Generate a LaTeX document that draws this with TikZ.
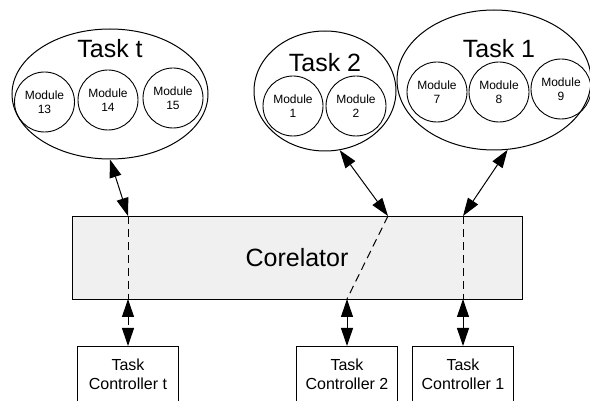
\documentclass[tikz,border=0pt]{standalone}
\usepackage{fontspec}
\setmainfont{Liberation Sans}
\usetikzlibrary{arrows.meta,shapes.geometric}

\tikzset{
	task/.style={draw, ellipse, line width=1pt, inner sep=0pt},
	module/.style={draw, circle, line width=0.9pt, minimum size=60pt, inner sep=0pt, align=center, font=\fontsize{12}{14}\selectfont},
	tasklabel/.style={font=\fontsize{25}{30}\selectfont},
	ctrl/.style={draw, rectangle, line width=0.9pt, minimum width=101pt, minimum height=56pt, anchor=north, align=center, font=\fontsize{16}{19}\selectfont},
	link/.style={line width=1pt, {Triangle[length=18pt,width=12pt]}-{Triangle[length=18pt,width=12pt]}},
	through/.style={line width=1pt, dash pattern=on 8pt off 5pt},
}

\begin{document}
\begin{tikzpicture}[x=1pt, y=-1pt]
	\clip (0,0) rectangle (590,401);
	% tasks with their modules
	\node[task, minimum width=196pt, minimum height=130pt] (taskt) at (110,94) {};
	\node[tasklabel] (labelt) at (110,48.5) {Task t};
	\node[module] (m13) at (44.5,102) {Module\\13};
	\node[module] (m14) at (108,100) {Module\\14};
	\node[module] (m15) at (173,98) {Module\\15};

	\node[task, minimum width=142pt, minimum height=120pt] (task2) at (325,91) {};
	\node[tasklabel] (label2) at (325,62.5) {Task 2};
	\node[module] (m1) at (293,106) {Module\\1};
	\node[module] (m2) at (356,106) {Module\\2};

	\node[task, minimum width=194pt, minimum height=140pt] (task1) at (494,80) {};
	\node[tasklabel] (label1) at (499,49) {Task 1};
	\node[module] (m7) at (437,92) {Module\\7};
	\node[module] (m8) at (499,92) {Module\\8};
	\node[module] (m9) at (561,89) {Module\\9};

	% corelator
	\node[draw, rectangle, line width=0.9pt, fill=black!6, minimum width=450pt, minimum height=83pt, font=\fontsize{25}{30}\selectfont] (cor) at (297,257.5) {Corelator};
	\coordinate (tt top) at (128,216);
	\coordinate (tt bot) at (128,299);
	\coordinate (t2 top) at (388,216);
	\coordinate (t2 bot) at (347,299);
	\coordinate (t1 top) at (463,216);
	\coordinate (t1 bot) at (463,299);

	% controllers
	\node[ctrl] (ctrlt) at (128,346) {Task\\Controller t};
	\node[ctrl] (ctrl2) at (347,346) {Task\\Controller 2};
	\node[ctrl] (ctrl1) at (463,346) {Task\\Controller 1};

	% links
	\draw[link] (taskt.south) -- (tt top);
	\draw[link] (task2.-76) -- (t2 top);
	\draw[link] (task1.-79) -- (t1 top);
	\draw[through] (tt top) -- (tt bot);
	\draw[through] (t2 top) -- (t2 bot);
	\draw[through] (t1 top) -- (t1 bot);
	\draw[link, through] (tt bot) -- (ctrlt.north);
	\draw[link] (t2 bot) -- (ctrl2.north);
	\draw[link] (t1 bot) -- (ctrl1.north);
\end{tikzpicture}
\end{document}
